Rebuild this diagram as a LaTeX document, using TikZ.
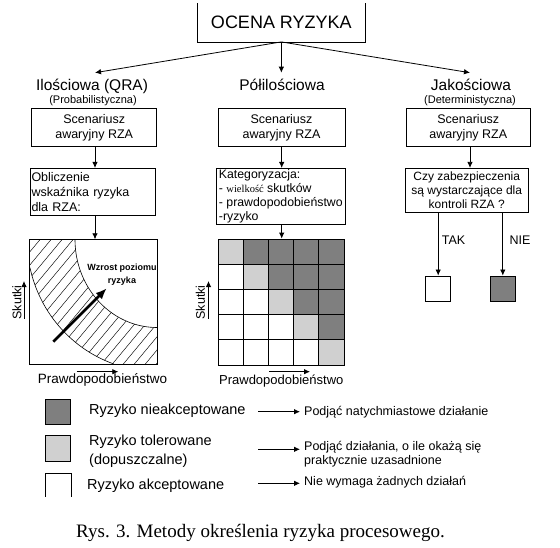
\documentclass[tikz,border=0pt]{standalone}
\usepackage{fontspec}
\setmainfont{Liberation Sans}
\newfontfamily\capfont{Liberation Serif}
\usetikzlibrary{arrows.meta}
\definecolor{dk}{HTML}{7F7F7F}
\definecolor{lt}{HTML}{D0D0D0}
\newcommand\fsz[2]{\fontsize{#1}{#2}\selectfont}
\begin{document}
\begin{tikzpicture}[x=1pt,y=-1pt,
  box/.style={draw,line width=0.8pt,inner sep=0pt},
  arr/.style={line width=0.8pt,-{Latex[length=6pt,width=5.5pt]}},
  bigarr/.style={line width=2.6pt,-{Latex[length=11pt,width=9pt]}},
  cell/.style={draw,line width=0.8pt,inner sep=0pt,minimum width=25.14pt,minimum height=25.2pt},
  hatch/.style={line width=0.45pt},
  curve/.style={line width=0.6pt},
  txt/.style={inner sep=0pt}]
\useasboundingbox (0,0) rectangle (560,547);

% top box (its upper edge is cut off)
\node[txt, minimum width=167.3pt, minimum height=38.4pt, font=\fsz{18}{20}] (top) at (281.35,22.5) {OCENA RYZYKA};
\draw[line width=0.8pt] (top.north west) -- (top.south west) -- (top.south east) -- (top.north east);

\coordinate (tipL) at (95,72.7);
\coordinate (tipM) at (281.35,72.7);
\coordinate (tipR) at (470,72.7);
\draw[arr] (top.south) -- (tipL);
\draw[arr] (top.south) -- (tipM);
\draw[arr] (top.south) -- (tipR);

% headings
\node[txt, font=\fsz{15.5}{17}] (hL) at (92,86.5) {Ilościowa (QRA)};
\node[txt, font=\fsz{11}{12}] (hLs) at (93,100.7) {(Probabilistyczna)};
\node[txt, font=\fsz{15.5}{17}] (hM) at (282,85) {Półilościowa};
\node[txt, font=\fsz{15.5}{17}] (hR) at (471,85) {Jakościowa};
\node[txt, font=\fsz{11}{12}] (hRs) at (470,100.7) {(Deterministyczna)};

% scenario boxes
\node[box, minimum width=125pt, minimum height=38.5pt, align=center, font=\fsz{12.5}{15}] (sL) at (94.2,127.5) {Scenariusz\\awaryjny RZA};
\node[box, minimum width=127pt, minimum height=38.5pt, align=center, font=\fsz{12.5}{15}] (sM) at (281.5,127.5) {Scenariusz\\awaryjny RZA};
\node[box, minimum width=123.3pt, minimum height=38.5pt, align=center, font=\fsz{12.5}{15}] (sR) at (468.3,127.5) {Scenariusz\\awaryjny RZA};

\coordinate (colL) at (95,0);
\coordinate (colM) at (281.7,0);
\coordinate (colR) at (470,0);

% second boxes
\node[box, minimum width=125pt, minimum height=46.7pt, text width=122pt, align=left, font=\fsz{12.5}{15}] (oL) at (92.5,191.7) {Obliczenie\\wskaźnika ryzyka\\dla RZA:};
\node[box, minimum width=128.3pt, minimum height=55.7pt, align=left, font=\fsz{12.3}{13.8}] (kM) at (280.8,196.2) {Kategoryzacja:\\- {\capfont\fsz{10.5}{13.8}wielkość} skutków\\- prawdopodobieństwo\\-ryzyko};
\node[box, minimum width=123.3pt, minimum height=44.4pt, align=center, font=\fsz{12}{14.2}] (cR) at (466.7,190.5) {Czy zabezpieczenia\\są wystarczające dla\\kontroli RZA ?};

\draw[arr] (sL.south -| colL) -- (oL.north -| colL);
\draw[arr] (sM.south -| colM) -- (kM.north -| colM);
\draw[arr] (sR.south -| colR) -- (cR.north -| colR);

% left chart
\node[minimum width=127pt, minimum height=125pt, inner sep=0pt] (chL) at (93.5,302) {};
\begin{scope}
  \clip (75,239.5) -- (30,239.5) -- (30,268)
    -- plot[domain=12.3:70.6, samples=40, variable=\t] ({157-130*cos(\t)},{239.5+132*sin(\t)})
    -- (157,364.5) -- (157,327.5)
    -- plot[domain=90:0, samples=40, variable=\t] ({157-82*cos(\t)},{239.5+88*sin(\t)}) -- cycle;
  \foreach \i in {-10,...,16} \draw[hatch] ({\i*11},380) -- ++(150,-180);
\end{scope}
\draw[curve] plot[domain=0:90, samples=40, variable=\t] ({157-82*cos(\t)},{239.5+88*sin(\t)});
\draw[curve] plot[domain=12.3:70.6, samples=40, variable=\t] ({157-130*cos(\t)},{239.5+132*sin(\t)});
\draw[line width=0.8pt] (chL.north west) rectangle (chL.south east);
\node[txt, align=center, font=\bfseries\fsz{9}{12.4}] (wz) at (122,274.5) {Wzrost poziomu\\ryzyka};
\coordinate (bA) at (53.3,341.7);
\coordinate (bB) at (106.7,288.3);
\draw[bigarr] (bA) -- (bB);
\draw[arr] (oL.south -| colL) -- (chL.north -| colL);

% middle grid
\foreach \r in {1,...,5}{\foreach \c in {1,...,5}{
  \ifnum\c<\r \def\cc{white}\else\ifnum\c=\r \def\cc{lt}\else\def\cc{dk}\fi\fi
  \node[cell, fill=\cc] (g\r\c) at ({218.3+25.14*(\c-0.5)},{239+25.2*(\r-0.5)}) {};
}}
\node[box, minimum width=125.7pt, minimum height=126pt] (grid) at (281.15,302) {};
\draw[arr] (kM.south -| colM) -- (grid.north -| colM);

% axis labels
\node[txt, rotate=90, font=\fsz{12.5}{14}] (skL) at (17,302.5) {Skutki};
\coordinate (skLa) at (24,318.5);
\coordinate (skLb) at (24,281);
\draw[arr] (skLa) -- (skLb);
\node[txt, rotate=90, font=\fsz{12.5}{14}] (skM) at (200.5,302.5) {Skutki};
\coordinate (skMa) at (208.5,318.5);
\coordinate (skMb) at (208.5,281);
\draw[arr] (skMa) -- (skMb);

\node[txt, font=\fsz{13.5}{15}] (pL) at (102.5,380) {Prawdopodobieństwo};
\coordinate (pLa) at (76.7,371.7);
\coordinate (pLb) at (118.3,371.7);
\draw[arr] (pLa) -- (pLb);
\node[txt, font=\fsz{13}{15}] (pM) at (281.3,381) {Prawdopodobieństwo};
\coordinate (pMa) at (269.3,371.7);
\coordinate (pMb) at (310,371.7);
\draw[arr] (pMa) -- (pMb);

% right branch
\node[box, minimum width=25pt, minimum height=25.7pt] (sqW) at (438.2,288.8) {};
\node[box, fill=dk, minimum width=24.3pt, minimum height=25.7pt] (sqD) at (502.8,288.8) {};
\draw[arr] (cR.south -| sqW) -- (sqW.north);
\draw[arr] (cR.south -| sqD) -- (sqD.north);
\node[txt, font=\fsz{12.5}{14}] (tak) at (453.5,240) {TAK};
\node[txt, font=\fsz{12.5}{14}] (nie) at (520,240) {NIE};

% legend
\node[box, fill=dk, minimum width=25pt, minimum height=25pt] (lgD) at (58.2,411.5) {};
\node[box, fill=lt, minimum width=25pt, minimum height=26pt] (lgL) at (58.2,448) {};
\node[inner sep=0pt, minimum width=25pt, minimum height=23.4pt] (lgW) at (58.2,485) {};
\draw[line width=0.8pt] (lgW.south west) -- (lgW.north west) -- (lgW.north east) -- (lgW.south east);

\node[txt, anchor=west, font=\fsz{14.5}{19.3}] (r1) at (89,411) {Ryzyko nieakceptowane};
\node[txt, anchor=west, align=left, font=\fsz{14.5}{19.3}] (r2) at (89,451.3) {Ryzyko tolerowane\\(dopuszczalne)};
\node[txt, anchor=west, font=\fsz{14.5}{17}] (r3) at (87,486) {Ryzyko akceptowane};

\node[txt, anchor=west, font=\fsz{12.5}{14.3}] (a1) at (304,411.7) {Podjąć natychmiastowe działanie};
\node[txt, anchor=west, align=left, font=\fsz{12.5}{14.3}] (a2) at (304,453.9) {Podjąć działania, o ile okażą się\\praktycznie uzasadnione};
\node[txt, anchor=west, font=\fsz{12.5}{14.3}] (a3) at (304,481.7) {Nie wymaga żadnych działań};

\coordinate (s1) at (258,411.7);
\coordinate (s2) at (258,449.3);
\coordinate (s3) at (258,483.3);
\draw[arr, shorten >=4pt] (s1) -- (s1 -| a1.west);
\draw[arr, shorten >=4pt] (s2) -- (s2 -| a2.west);
\draw[arr, shorten >=4pt] (s3) -- (s3 -| a3.west);

% caption
\node[txt, font=\capfont\fsz{19}{22}] (cap) at (260.5,533) {Rys. 3. Metody określenia ryzyka procesowego.};
\end{tikzpicture}
\end{document}
